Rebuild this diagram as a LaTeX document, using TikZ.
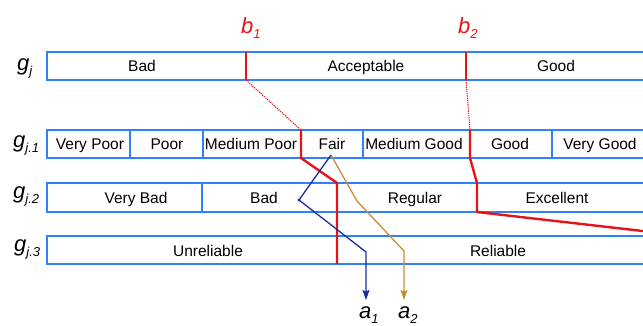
\documentclass[tikz,border=0pt]{standalone}
\usepackage{fontspec}
\setmainfont{Liberation Sans}
\usetikzlibrary{arrows.meta}
\definecolor{boxblue}{RGB}{45,128,255}
\definecolor{cutred}{RGB}{230,20,20}
\definecolor{pathblue}{RGB}{25,45,160}
\definecolor{pathbrown}{RGB}{200,140,55}
\newcommand{\sublab}[2]{{\fontsize{22}{24}\selectfont\itshape #1}\raisebox{-5.5pt}{\fontsize{13}{14}\selectfont\itshape #2}}

\begin{document}
\begin{tikzpicture}[
    x=1pt, y=-1pt,
    row/.style={draw=boxblue, line width=2.2pt},
    sep/.style={draw=boxblue, line width=1.4pt},
    cell/.style={anchor=base, inner sep=0pt, font=\fontsize{15.5}{18}\selectfont},
    glabel/.style={anchor=base west, inner sep=0pt},
    cut/.style={draw=cutred, line width=2.4pt},
    cutlink/.style={draw=cutred, line width=1.1pt, dash pattern=on 1.2pt off 1pt},
    walk/.style={line width=1.3pt, -{Stealth[length=10pt,width=7pt,inset=1.5pt]}}
]
\useasboundingbox (0,0) rectangle (643,325);
\clip (0,0) rectangle (643,325);

% the four scales
\draw[row] (47,52) rectangle (660,80);
\draw[row] (47,130) rectangle (660,158);
\draw[row] (47,183) rectangle (660,212);
\draw[row] (47,236) rectangle (660,264);
\foreach \x in {130,203,363,552} \draw[sep] (\x,130) -- (\x,158);
\draw[sep] (202,183) -- (202,212);

\node[glabel] (gj)  at (17,70)  {\sublab{g}{j}};
\node[glabel] (gj1) at (13,147) {\sublab{g}{j.1}};
\node[glabel] (gj2) at (13,198) {\sublab{g}{j.2}};
\node[glabel] (gj3) at (14,251) {\sublab{g}{j.3}};

\node[cell] (bad)        at (142,71)    {Bad};
\node[cell] (acceptable) at (366,71)    {Acceptable};
\node[cell] (good)       at (556,71)    {Good};
\node[cell] (vpoor)      at (90,149.5)  {Very Poor};
\node[cell] (poor)       at (167,149.5) {Poor};
\node[cell] (mpoor)      at (251,149.5) {Medium Poor};
\node[cell] (fair)       at (332,149.5) {Fair};
\node[cell] (mgood)      at (414,149.5) {Medium Good};
\node[cell] (goodone)    at (510,149.5) {Good};
\node[cell] (vgood)      at (600,149.5) {Very Good};
\node[cell] (vbad)       at (136,203)   {Very Bad};
\node[cell] (badtwo)     at (264,203)   {Bad};
\node[cell] (regular)    at (415,203)   {Regular};
\node[cell] (excellent)  at (557,203)   {Excellent};
\node[cell] (unreliable) at (208,256.5) {Unreliable};
\node[cell] (reliable)   at (498,256.5) {Reliable};

% cut points
\node[glabel, text=cutred] (b1) at (241,33) {\sublab{b}{1}};
\node[glabel, text=cutred] (b2) at (458,33) {\sublab{b}{2}};

\coordinate (b1a) at (246,52);
\coordinate (b1b) at (246,80);
\coordinate (b1c) at (301,130);
\coordinate (b1d) at (301,158);
\coordinate (b1e) at (337,183);
\coordinate (b1f) at (337,264);
\draw[cut] (b1a) -- (b1b);
\draw[cutlink] (b1b) -- (b1c);
\draw[cut] (b1c) -- (b1d) -- (b1e) -- (b1f);

\coordinate (b2a) at (466,52);
\coordinate (b2b) at (466,80);
\coordinate (b2c) at (470,130);
\coordinate (b2d) at (470,158);
\coordinate (b2e) at (477,183);
\coordinate (b2f) at (477,212);
\coordinate (b2g) at (660,233);
\draw[cut] (b2a) -- (b2b);
\draw[cutlink] (b2b) -- (b2c);
\draw[cut] (b2c) -- (b2d) -- (b2e) -- (b2f) -- (b2g);

% alternatives
\node[glabel] (a1) at (359,318) {\sublab{a}{1}};
\node[glabel] (a2) at (398,318) {\sublab{a}{2}};

\coordinate (start) at (331,155);
\coordinate (a1bend) at (299,200);
\coordinate (a1turn) at (366,252);
\coordinate (a1end) at (366,300);
\coordinate (a2bend) at (357,201);
\coordinate (a2turn) at (404,251);
\coordinate (a2end) at (404,300);
\draw[walk, pathblue] (start) -- (a1bend) -- (a1turn) -- (a1end);
\fill[pathblue] (a1bend) circle (1.6pt);
\draw[walk, pathbrown] (start) -- (a2bend) -- (a2turn) -- (a2end);
\end{tikzpicture}
\end{document}
